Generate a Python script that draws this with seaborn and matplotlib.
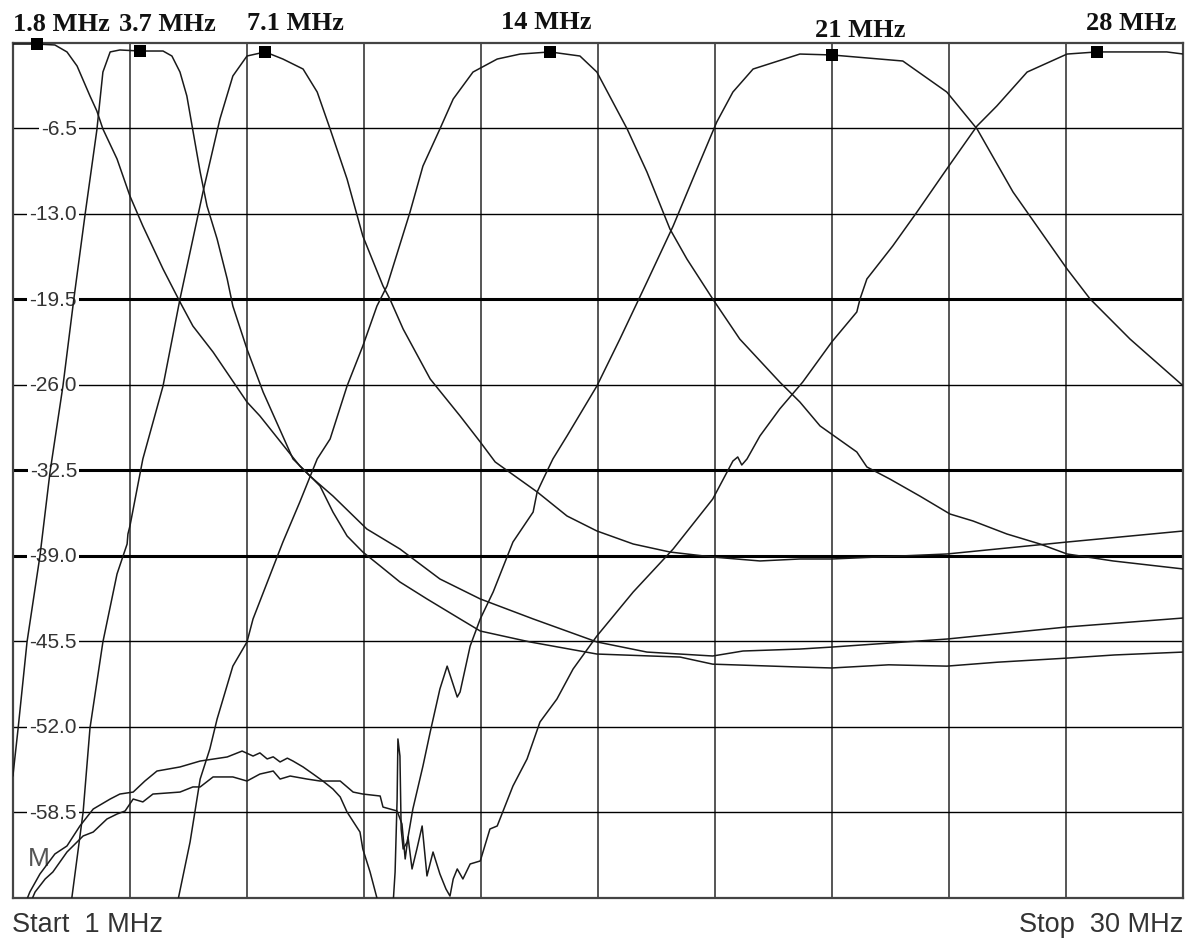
import numpy as np
import pandas as pd
import seaborn as sns
import matplotlib.pyplot as plt

# filter responses (MHz, dB)
f_18 = [1.0, 1.60, 2.04, 2.34, 2.59, 2.91, 3.08, 3.23, 3.58, 3.90, 4.22, 4.72, 5.14, 5.46, 5.96, 6.80, 7.12,
        8.11, 8.36, 8.93, 9.77, 10.59, 11.58, 12.58, 13.89, 15.47, 16.71, 18.34, 19.09, 20.50, 21.29, 24.14,
        27.12, 30.0]
db_18 = [-0.08, -0.08, -0.15, -0.68, -1.75, -4.03, -5.17, -6.54, -8.82, -11.64, -13.92, -17.19, -19.70,
         -21.53, -23.51, -27.31, -28.37, -32.18, -32.94, -34.46, -36.97, -38.49, -40.77, -42.29, -43.81,
         -45.56, -46.33, -46.63, -46.25, -46.10, -45.95, -45.34, -44.42, -43.74]

f_37 = [1.0, 1.13, 1.35, 1.67, 1.92, 2.24, 2.51, 2.79, 3.08, 3.23, 3.41, 3.65, 4.15, 4.72, 4.94, 5.14, 5.31,
        5.44, 5.64, 5.81, 6.06, 6.31, 6.45, 6.80, 7.20, 7.94, 8.19, 8.61, 8.93, 9.28, 9.67, 10.10, 10.59,
        11.26, 12.08, 12.58, 13.81, 15.47, 17.53, 18.34, 20.50, 21.29, 22.7, 24.14, 25.4, 27.12, 28.3, 30.0]
db_37 = [-55.76, -52.11, -45.56, -39.02, -32.63, -26.09, -19.47, -13.01, -6.62, -2.21, -0.68, -0.53, -0.61,
         -0.61, -0.99, -2.21, -4.03, -6.31, -9.81, -12.40, -14.91, -17.95, -20.01, -23.28, -26.55, -31.64,
         -32.40, -33.70, -35.68, -37.50, -38.72, -39.78, -41.00, -42.29, -43.81, -44.73, -45.56, -46.48,
         -46.71, -47.25, -47.47, -47.54, -47.30, -47.40, -47.10, -46.79, -46.55, -46.33]

f_71 = [2.44, 2.74, 2.91, 3.23, 3.58, 3.73, 3.83, 3.85, 3.90, 4.22, 4.72, 5.14, 5.46, 5.71, 6.13, 6.45, 6.80,
        7.25, 7.69, 8.19, 8.54, 8.86, 9.28, 9.67, 10.17, 10.34, 10.67, 11.34, 12.08, 12.58, 12.95, 13.99,
        14.73, 15.47, 16.37, 17.28, 18.34, 19.51, 20.50, 21.29, 24.14, 27.12, 30.0]
db_71 = [-65.5, -58.50, -52.11, -45.56, -40.39, -39.02, -38.11, -37.35, -36.74, -31.64, -26.09, -19.47,
         -14.91, -11.33, -5.78, -2.51, -0.99, -0.68, -1.22, -1.98, -3.73, -6.54, -10.35, -14.68, -18.48,
         -19.47, -21.76, -25.56, -28.37, -30.35, -31.87, -34.15, -35.98, -37.12, -38.11, -38.72, -39.10,
         -39.40, -39.25, -39.25, -38.87, -37.96, -37.12]

f_14 = [5.07, 5.39, 5.64, 5.88, 6.06, 6.45, 6.80, 6.95, 7.69, 8.11, 8.54, 8.86, 9.28, 9.67, 10.02, 10.27,
        10.84, 11.16, 11.58, 11.91, 12.40, 13.00, 13.57, 14.31, 15.05, 15.47, 16.22, 16.71, 17.28, 17.70,
        18.34, 19.01, 20.00, 20.50, 21.00, 21.91, 22.16, 22.73, 23.47, 24.22, 24.79, 25.63, 26.45, 27.12,
        28.26, 30.0]
db_14 = [-65.5, -60.78, -55.99, -53.70, -51.42, -47.40, -45.56, -43.81, -37.96, -34.91, -31.64, -30.12,
         -26.09, -23.05, -20.01, -18.48, -12.86, -9.36, -6.54, -4.26, -2.21, -1.22, -0.84, -0.68, -0.99,
         -2.21, -6.54, -9.81, -14.15, -16.43, -19.47, -22.52, -25.79, -27.31, -29.13, -31.11, -32.25, -33.17,
         -34.46, -35.83, -36.36, -37.35, -38.11, -38.87, -39.40, -40.01]

f_21 = [1.30, 1.42, 1.67, 2.04, 2.34, 2.66, 2.99, 3.41, 3.65, 3.98, 4.27, 4.57, 5.14, 5.64, 6.31, 6.68, 6.95,
        7.12, 7.30, 7.45, 7.62, 7.80, 7.94, 8.19, 8.44, 8.68, 8.93, 9.11, 9.28, 9.60, 9.67, 9.85, 10.02,
        10.10, 10.42, 10.47, 10.52, 10.54, 10.59, 10.62, 10.67, 10.77, 10.91, 11.16, 11.34, 11.58, 11.76,
        12.01, 12.08, 12.33, 12.58, 12.90, 13.39, 13.89, 13.99, 14.14, 14.38, 14.73, 15.47, 16.04, 16.71,
        17.36, 17.95, 18.44, 18.84, 19.34, 20.50, 21.29, 23.05, 24.14, 24.89, 25.78, 27.12, 27.69, 28.68,
        30.0]
db_21 = [-65.5, -64.58, -63.21, -61.69, -61.08, -59.56, -58.27, -57.51, -57.13, -56.98, -56.14, -55.38,
         -55.07, -54.62, -54.31, -53.86, -54.24, -54.00, -54.46, -54.30, -54.69, -54.40, -54.62, -55.07,
         -55.61, -56.14, -56.75, -57.35, -58.50, -60.02, -61.31, -63.06, -65.04, -65.5, -65.5, -63.06,
         -57.51, -52.94, -54.24, -59.79, -61.31, -60.78, -58.27, -55.00, -52.41, -49.14, -47.40, -49.75,
         -49.37, -45.87, -43.81, -41.76, -37.96, -35.68, -34.15, -33.17, -31.64, -29.89, -26.09, -22.52,
         -18.18, -13.92, -9.58, -6.01, -3.73, -1.98, -0.84, -0.91, -1.37, -3.73, -6.54, -11.33, -17.19,
         -19.47, -22.52, -26.09]

f_28 = [1.42, 1.55, 1.80, 1.99, 2.34, 2.74, 2.99, 3.33, 3.58, 3.78, 3.98, 4.22, 4.47, 5.14, 5.46, 5.64, 5.96,
        6.45, 6.80, 7.12, 7.45, 7.62, 7.87, 8.29, 8.61, 9.11, 9.43, 9.67, 10.10, 10.17, 10.52, 10.64, 10.72,
        10.79, 10.89, 11.01, 11.14, 11.26, 11.41, 11.58, 11.73, 11.83, 11.91, 12.01, 12.15, 12.33, 12.58,
        12.82, 13.00, 13.39, 13.74, 14.06, 14.48, 14.88, 15.47, 16.37, 17.36, 18.34, 18.84, 18.96, 19.06,
        19.19, 19.51, 20.00, 20.57, 21.29, 21.91, 21.99, 22.16, 22.80, 23.40, 24.14, 24.89, 25.38, 26.13,
        27.12, 27.86, 29.59, 30.0]
db_28 = [-65.5, -64.58, -63.59, -63.06, -61.54, -60.32, -60.02, -59.03, -58.65, -58.42, -57.51, -57.73,
         -57.13, -56.98, -56.59, -56.59, -55.83, -55.83, -56.14, -55.61, -55.38, -55.99, -55.76, -55.99,
         -56.14, -56.14, -56.98, -57.13, -57.28, -58.12, -58.42, -59.41, -62.07, -60.40, -62.83, -61.31,
         -59.56, -63.36, -61.54, -63.21, -64.35, -64.89, -63.59, -62.83, -63.59, -62.45, -62.22, -59.79,
         -59.56, -56.52, -54.46, -51.65, -49.90, -47.62, -45.11, -41.76, -38.49, -34.69, -31.80, -31.49,
         -32.10, -31.64, -29.89, -27.84, -25.79, -22.74, -20.46, -19.47, -17.95, -15.44, -12.86, -9.58,
         -6.31, -4.79, -2.21, -0.84, -0.68, -0.68, -0.84]

marker_f = [1.60, 4.15, 7.25, 14.31, 21.29, 27.86]
marker_db = [-0.08, -0.61, -0.68, -0.68, -0.91, -0.68]
marker_text = ["1.8 MHz", "3.7 MHz", "7.1 MHz", "14 MHz", "21 MHz", "28 MHz"]
label_dx = [24, 27, 30, -4, 28, 34]   # px
label_dy = [21, 28, 29, 30, 25, 29]   # px

x_grid = np.linspace(1, 30, 11)
y_grid = [-6.5 * k for k in range(1, 10)]
y_bold = [-19.5, -32.5, -39.0]

sns.set_style("white")
plt.rcParams['font.family'] = ['Liberation Sans', 'DejaVu Sans']

fig = plt.figure(figsize=(11.92, 9.45), dpi=100)
ax = fig.add_axes([12.9 / 1192, 1 - 898.5 / 945, 1170.4 / 1192, 854.5 / 945])

for x in x_grid[1:-1]:
    ax.axvline(x, color="#555555", lw=1.4, zorder=1)
for y in y_grid:
    ax.axhline(y, color="#000000", lw=2.2 if y in y_bold else 1.0, zorder=1)

# y labels sit inside the grid, on a white patch
for v in y_grid:
    ax.text(0.0548, v, f"{v:.1f}", transform=ax.get_yaxis_transform(), ha="right", va="center",
            fontsize=15, color="#333333", zorder=2,
            bbox=dict(facecolor="white", edgecolor="none", pad=1.5))

curves = [(f_18, db_18), (f_37, db_37), (f_71, db_71), (f_14, db_14), (f_21, db_21), (f_28, db_28)]
for f, db in curves:
    sns.lineplot(x=f, y=db, ax=ax, color="#1a1a1a", lw=1.1, estimator=None, sort=False, zorder=3)

sns.scatterplot(x=marker_f, y=marker_db, ax=ax, marker="s", s=80, color="black", linewidth=0,
                zorder=5, clip_on=False)

for f, db, t, dx, dy in zip(marker_f, marker_db, marker_text, label_dx, label_dy):
    ax.annotate(t, xy=(f, db), xytext=(dx * 0.72, dy * 0.72), textcoords="offset points",
                ha="center", va="center", fontsize=19, fontweight="bold",
                family="Liberation Serif", color="#111111", annotation_clip=False)

ax.text(0.0223, -62.0, "M", transform=ax.get_yaxis_transform(),
        fontsize=19, color="#555555", ha="center", va="center", zorder=2)

ax.set_xlim(1, 30)
ax.set_ylim(-65, 0)
ax.set_xticks([])
ax.set_yticks([])
ax.set_xlabel("")
ax.set_ylabel("")
for s in ax.spines.values():
    s.set_color("#444444")
    s.set_linewidth(1.6)

fig.text(12 / 1192, 1 - 925 / 945, "Start  1 MHz", fontsize=19.5, color="#333333", ha="left", va="center")
fig.text(1183 / 1192, 1 - 925 / 945, "Stop  30 MHz", fontsize=19.5, color="#333333", ha="right", va="center")

fig.savefig("out.png", dpi=100, facecolor="white")
